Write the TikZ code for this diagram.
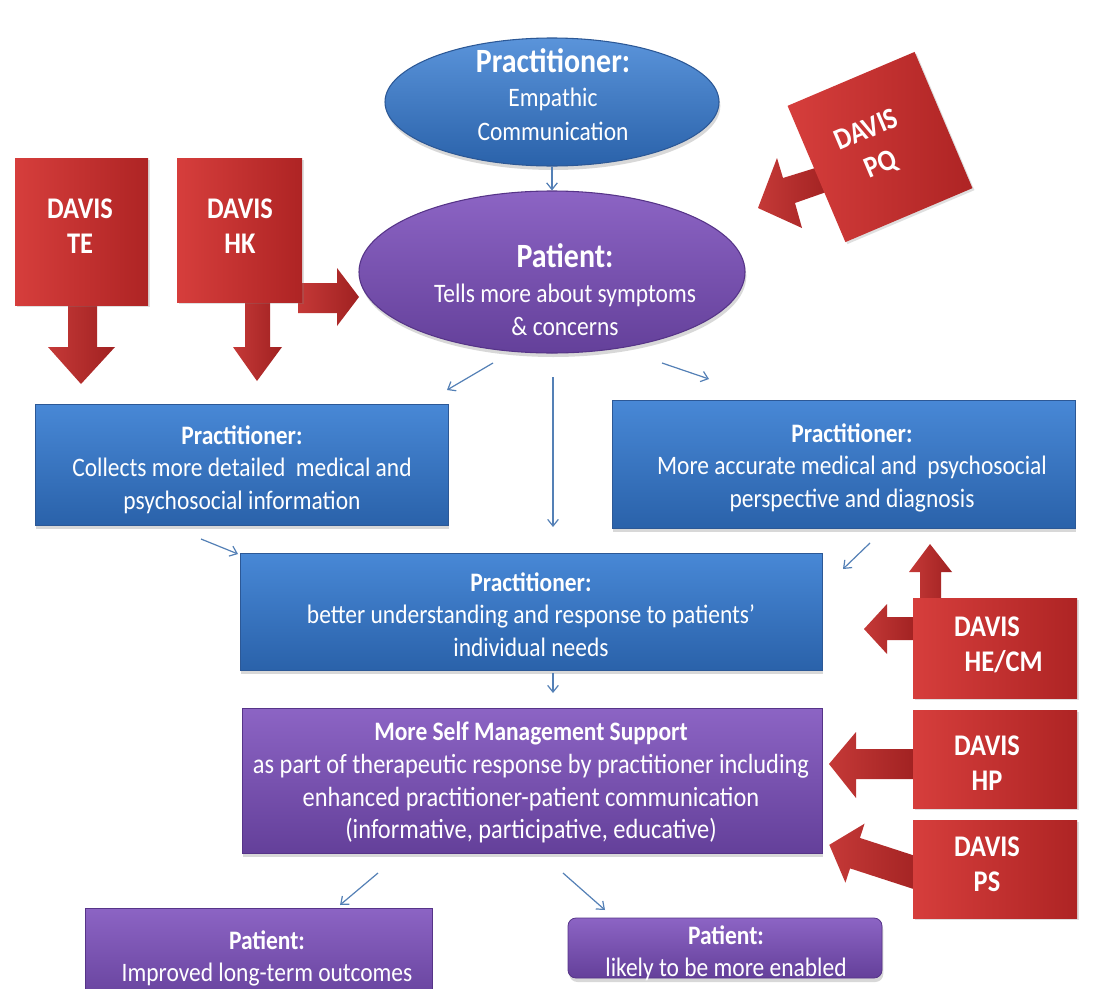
\documentclass[tikz,border=0pt]{standalone}
\usepackage{fontspec}
\setmainfont{Carlito}[FakeStretch=0.88]
\usetikzlibrary{shapes.geometric,arrows.meta,shadows}
\definecolor{blueT}{RGB}{72,136,214}
\definecolor{blueB}{RGB}{42,98,170}
\definecolor{blueE}{RGB}{44,88,150}
\definecolor{purT}{RGB}{140,100,196}
\definecolor{purB}{RGB}{100,64,154}
\definecolor{purE}{RGB}{86,52,136}
\definecolor{redL}{RGB}{214,62,60}
\definecolor{redD}{RGB}{174,36,36}
\definecolor{connC}{RGB}{84,128,182}
\begin{document}
\begin{tikzpicture}[x=0.75pt,y=-0.75pt,
  bluebox/.style={rectangle, inner sep=0pt, draw=blueE, line width=0.6pt, top color=blueT, bottom color=blueB,
    drop shadow={shadow xshift=1pt, shadow yshift=-3pt, opacity=0.3}},
  purbox/.style={rectangle, inner sep=0pt, draw=purE, line width=0.6pt, top color=purT, bottom color=purB,
    drop shadow={shadow xshift=1pt, shadow yshift=-3pt, opacity=0.3}},
  blueell/.style={ellipse, inner sep=0pt, draw=blueE, line width=0.8pt, top color=blueT!90!white, bottom color=blueB,
    drop shadow={shadow xshift=1pt, shadow yshift=-3pt, opacity=0.3}},
  purell/.style={ellipse, inner sep=0pt, draw=purE, line width=0.8pt, top color=purT, bottom color=purB,
    drop shadow={shadow xshift=1pt, shadow yshift=-3pt, opacity=0.3}},
  redbox/.style={rectangle, inner sep=0pt, left color=redL, right color=redD,
    drop shadow={shadow xshift=1.5pt, shadow yshift=-1.5pt, opacity=0.25}},
  redarrow/.style={left color=redL!92!black, right color=redD!92!black},
  txt/.style={text=white, align=center, inner sep=0pt, anchor=north, font=\fontsize{20}{24.5}\selectfont},
  davis/.style={text=white, align=center, inner sep=0pt, anchor=north, font=\fontsize{22.5}{26}\selectfont\bfseries},
  conn/.style={draw=connC, line width=0.9pt, -{Straight Barb[length=5pt,width=8pt]}},
]
\useasboundingbox (0,0) rectangle (1093,989);
\begin{scope}
\clip (0,0) rectangle (1093,989);
\fill[white] (0,0) rectangle (1093,989);

% ---------- red arrows (behind the red boxes)
\path[redarrow] (68,300) -- (68,347) -- (48,347) -- (81,384) -- (115,347) -- (97,347) -- (97,300) -- cycle;
\path[redarrow] (245,298) -- (245,347) -- (233,347) -- (257,381) -- (282,347) -- (270,347) -- (270,298) -- cycle;
\path[redarrow] (298,283) -- (337,283) -- (337,268) -- (359,297) -- (337,326) -- (337,313) -- (298,313) -- cycle;
\path[redarrow] (825,165) -- (783,178) -- (777,158) -- (758,208) -- (802,228) -- (795,203) -- (832,190) -- cycle;
\path[redarrow] (920,602) -- (920,572) -- (909,572) -- (930,544) -- (952,572) -- (941,572) -- (941,602) -- cycle;
\path[redarrow] (917,617) -- (887,617) -- (887,604) -- (864,629) -- (887,654) -- (887,640) -- (917,640) -- cycle;
\path[redarrow] (917,749) -- (856,749) -- (856,732) -- (829,764) -- (856,798) -- (856,779) -- (917,779) -- cycle;
\begin{scope}[shift={(913,872)}, rotate=162]
\path[redarrow] (-10,-16) -- (61,-16) -- (61,-31) -- (88,0) -- (61,31) -- (61,16) -- (-10,16) -- cycle;
\end{scope}

% ---------- red boxes
\node[redbox, minimum width=133*0.75pt, minimum height=147*0.75pt] (te) at (81.5,231.5) {};
\node[redbox, minimum width=125*0.75pt, minimum height=144*0.75pt] (hk) at (239.5,230) {};
\node[redbox, minimum width=138*0.75pt, minimum height=148*0.75pt, rotate=23] (pq) at (880,147) {};
\node[redbox, minimum width=164*0.75pt, minimum height=100*0.75pt] (he) at (995,648) {};
\node[redbox, minimum width=164*0.75pt, minimum height=98*0.75pt] (hp) at (995,759) {};
\node[redbox, minimum width=164*0.75pt, minimum height=98*0.75pt] (ps) at (995,869) {};

\node[davis] (tet) at (80,199) {DAVIS\\TE};
\node[davis] (hkt) at (240,199) {DAVIS\\HK};
\node[davis, anchor=center, rotate=23, font=\fontsize{22.5}{28}\selectfont\bfseries] (pqt) at (874,148) {DAVIS\\PQ};
\node[davis] (het) at (987,617) {DAVIS\\\hspace*{25pt}HE/CM};
\node[davis] (hpt) at (987,736) {DAVIS\\HP};
\node[davis] (pst) at (987,837) {DAVIS\\PS};

% ---------- main shapes
\node[blueell, minimum width=334*0.75pt, minimum height=128*0.75pt] (e1) at (552,102) {};
\node[purell, minimum width=386*0.75pt, minimum height=162*0.75pt] (e2) at (552,272) {};
\node[bluebox, minimum width=413*0.75pt, minimum height=121*0.75pt] (b1) at (241.5,464.5) {};
\node[bluebox, minimum width=463*0.75pt, minimum height=128*0.75pt] (b2) at (843.5,464) {};
\node[bluebox, minimum width=582*0.75pt, minimum height=117*0.75pt] (b3) at (531,611.5) {};
\node[purbox, minimum width=580*0.75pt, minimum height=145*0.75pt] (b4) at (532,780.5) {};
\node[purbox, minimum width=347*0.75pt, minimum height=100*0.75pt] (p1) at (258.5,958) {};
\node[purbox, rounded corners=6pt, minimum width=314*0.75pt, minimum height=60*0.75pt] (p2) at (725,948) {};

% ---------- texts
\node[txt, font=\fontsize{20}{25.5}\selectfont] (e1t) at (553,48) {{\fontsize{25.5}{26}\selectfont\bfseries Practitioner:}\\Empathic\\Communication};
\node[txt] (e2t) at (565,243) {{\fontsize{25.5}{26}\selectfont\bfseries Patient:}\\[2pt]Tells more about symptoms\\\& concerns};
\node[txt] (b1t) at (242,425) {\textbf{Practitioner:}\\Collects more detailed\ \ medical and\\psychosocial information};
\node[txt] (b2t) at (852,423) {\textbf{Practitioner:}\\More accurate medical and\ \ psychosocial\\perspective and diagnosis};
\node[txt] (b3t) at (531,572) {\textbf{Practitioner:}\\better understanding and response to patients'\\individual needs};
\node[txt, font=\fontsize{20.8}{24.5}\selectfont] (b4t) at (531,722) {{\fontsize{20}{24.5}\selectfont\bfseries More Self Management Support}\\as part of therapeutic response by practitioner including\\enhanced practitioner-patient communication\\(informative, participative, educative)};
\node[txt] (p1t) at (267,930) {\textbf{Patient:}\\Improved long-term outcomes};
\node[txt] (p2t) at (726,925) {\textbf{Patient:}\\likely to be more enabled};

% ---------- thin connectors
\coordinate (c2s) at (493,363); \coordinate (c2e) at (447,390);
\coordinate (c3s) at (553,377); \coordinate (c3e) at (553,527);
\coordinate (c4s) at (662,363); \coordinate (c4e) at (709,379);
\coordinate (c5s) at (201,539); \coordinate (c5e) at (238,554);
\coordinate (c6s) at (870,543); \coordinate (c6e) at (843,569);
\coordinate (c7s) at (553,673); \coordinate (c7e) at (553,693);
\coordinate (c8s) at (378,873); \coordinate (c8e) at (340,905);
\coordinate (c9s) at (563,873); \coordinate (c9e) at (605,910);
\draw[conn] (e1.south) -- (e2.north);
\draw[conn] (c2s) -- (c2e);
\draw[conn] (c3s) -- (c3e);
\draw[conn] (c4s) -- (c4e);
\draw[conn] (c5s) -- (c5e);
\draw[conn] (c6s) -- (c6e);
\draw[conn] (c7s) -- (c7e);
\draw[conn] (c8s) -- (c8e);
\draw[conn] (c9s) -- (c9e);
\end{scope}
\end{tikzpicture}
\end{document}
